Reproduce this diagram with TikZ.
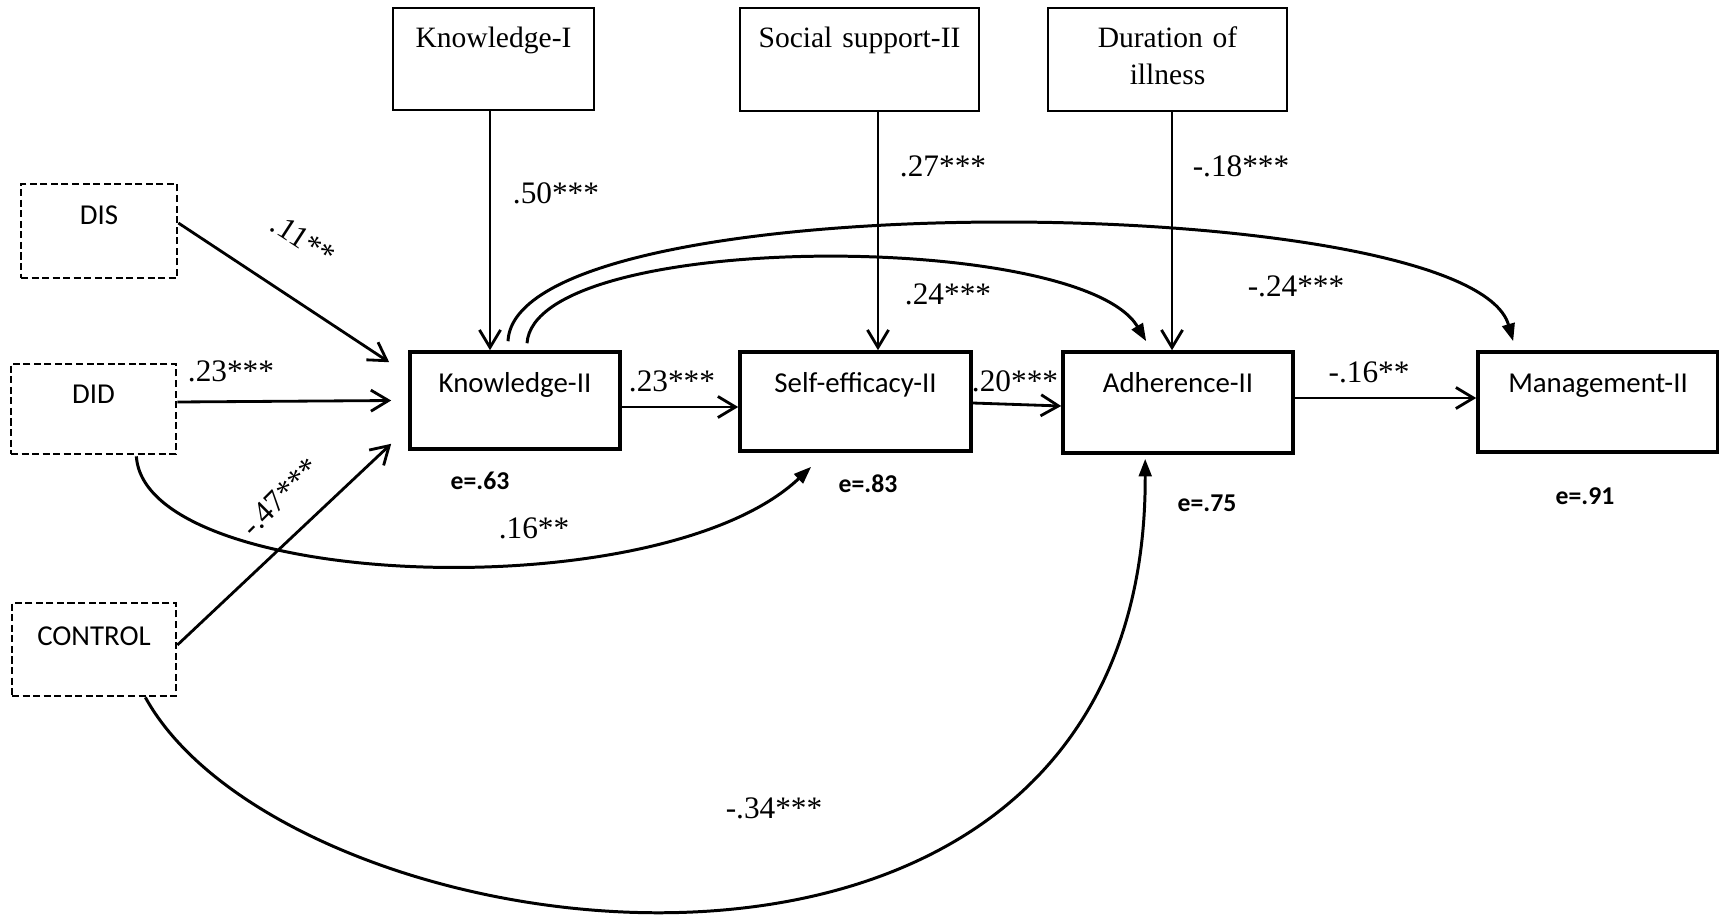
\documentclass[tikz,border=0pt]{standalone}
\usepackage{fontspec}
\setmainfont{Liberation Serif}
\newfontfamily\calibri{Carlito}
\usepackage{tikz}
\usetikzlibrary{arrows.meta, calc}

\tikzset{
  topbox/.style={rectangle, draw, line width=0.6pt, inner sep=0pt, align=center, font=\fontsize{8.4}{10.5}\selectfont},
  mainbox/.style={rectangle, draw, line width=1pt, inner sep=0pt, align=center, font=\calibri\fontsize{8.2}{10}\selectfont},
  dumbox/.style={rectangle, draw, line width=0.75pt, dash pattern=on 2pt off 1pt, inner sep=0pt, align=center, font=\calibri\fontsize{8.2}{10}\selectfont},
  coef/.style={inner sep=0pt, font=\fontsize{8.9}{10}\selectfont},
  resid/.style={inner sep=0pt, anchor=base, font=\calibri\bfseries\fontsize{7.3}{9}\selectfont},
  straightarr/.style={-{Straight Barb[length=5pt,width=6pt]}, line width=0.8pt},
  curvearr/.style={-{Triangle[length=5pt,width=3.6pt]}, line width=0.85pt}
}

\begin{document}
\begin{tikzpicture}[x=0.01cm, y=-0.01cm]
    \useasboundingbox (0,0) rectangle (1719,915);
    % Nodes
    \node (know1) [topbox, text width=2.01cm, text height=0.40cm, text depth=0.62cm] at (493.5,59) {Knowledge-I};
    \node (social) [topbox, text width=2.39cm, text height=0.40cm, text depth=0.63cm] at (859.5,59.5) {Social support-II};
    \node (durat) [topbox, text width=2.39cm, text height=0.40cm, text depth=0.63cm] at (1167.5,59.5) {Duration of\\illness};
    \node (dis) [dumbox, text width=1.56cm, text height=0.41cm, text depth=0.53cm] at (99,231) {DIS};
    \node (did) [dumbox, text width=1.65cm, text height=0.39cm, text depth=0.51cm] at (93.5,409) {DID};
    \node (control) [dumbox, text width=1.64cm, text height=0.42cm, text depth=0.51cm] at (94,649.5) {CONTROL};
    \node (know2) [mainbox, text width=2.10cm, text height=0.40cm, text depth=0.57cm] at (515,400.5) {Knowledge-II};
    \node (selfeff) [mainbox, text width=2.31cm, text height=0.40cm, text depth=0.59cm] at (855.5,401.5) {Self-efficacy-II};
    \node (adher) [mainbox, text width=2.30cm, text height=0.40cm, text depth=0.61cm] at (1178,402.5) {Adherence-II};
    \node (manage) [mainbox, text width=2.40cm, text height=0.40cm, text depth=0.60cm] at (1598,402) {Management-II};
    % Residuals
    \node (e-know) [resid] at (480,489) {e=.63};
    \node (e-self) [resid] at (868,492) {e=.83};
    \node (e-adh) [resid] at (1207,511) {e=.75};
    \node (e-man) [resid] at (1585,504) {e=.91};
    % Coefficients
    \node (c-k1) [coef] at (556,193) {.50***};
    \node (c-ss) [coef] at (943,166) {.27***};
    \node (c-du) [coef] at (1241,166) {-.18***};
    \node (c-dis) [coef, rotate=-33] at (303,240) {.11**};
    \node (c-did) [coef] at (231,371) {.23***};
    \node (c-con) [coef, rotate=45] at (280,497) {-.47***};
    \node (c-did2) [coef] at (534,528) {.16**};
    \node (c-k2) [coef] at (672,381) {.23***};
    \node (c-se) [coef] at (1015,381) {.20***};
    \node (c-k2a) [coef] at (948,294) {.24***};
    \node (c-k2m) [coef] at (1296,286) {-.24***};
    \node (c-ad) [coef] at (1369,372) {-.16**};
    \node (c-con2) [coef] at (774,808) {-.34***};
    % Arrows
    \draw[straightarr] (490,0 |- know1.south) -- (490,0 |- know2.north);
    \draw[straightarr] (878,0 |- social.south) -- (878,0 |- selfeff.north);
    \draw[straightarr] (1172,0 |- durat.south) -- (1172,0 |- adher.north);
    \draw[straightarr] ([yshift=0.08cm]dis.east) -- ($(know2.north west)+(-19,12)$);
    \draw[straightarr] ([yshift=0.07cm]did.east) -- ($(know2.west)+(-17,0)$);
    \draw[straightarr] ([yshift=0.045cm]control.east) -- ($(know2.south west)+(-17,-7)$);
    \draw[straightarr] (know2.east |- 0,407) -- (selfeff.west |- 0,407);
    \draw[straightarr] (selfeff.east |- 0,403) -- (adher.west |- 0,406);
    \draw[straightarr] (adher.east |- 0,398) -- (manage.west |- 0,398);
    % Curved arrows
    \draw[curvearr] ($(know2.north)+(-7,-9)$) .. controls (515,180) and (1470,190) .. ($(manage.north west)+(37,-9)$);
    \draw[curvearr] ($(know2.north)+(12,-7)$) .. controls (535,230) and (1080,230) .. ($(adher.north west)+(85,-9)$);
    \draw[curvearr] ($(did.south east)+(-41,1)$) .. controls (145,590) and (660,610) .. ($(selfeff.south west)+(73,14)$);
    \draw[curvearr] ($(control.south east)+(-32,0)$) .. controls (290,960) and (1147,1080) .. ($(adher.south west)+(84,4)$);
\end{tikzpicture}
\end{document}
